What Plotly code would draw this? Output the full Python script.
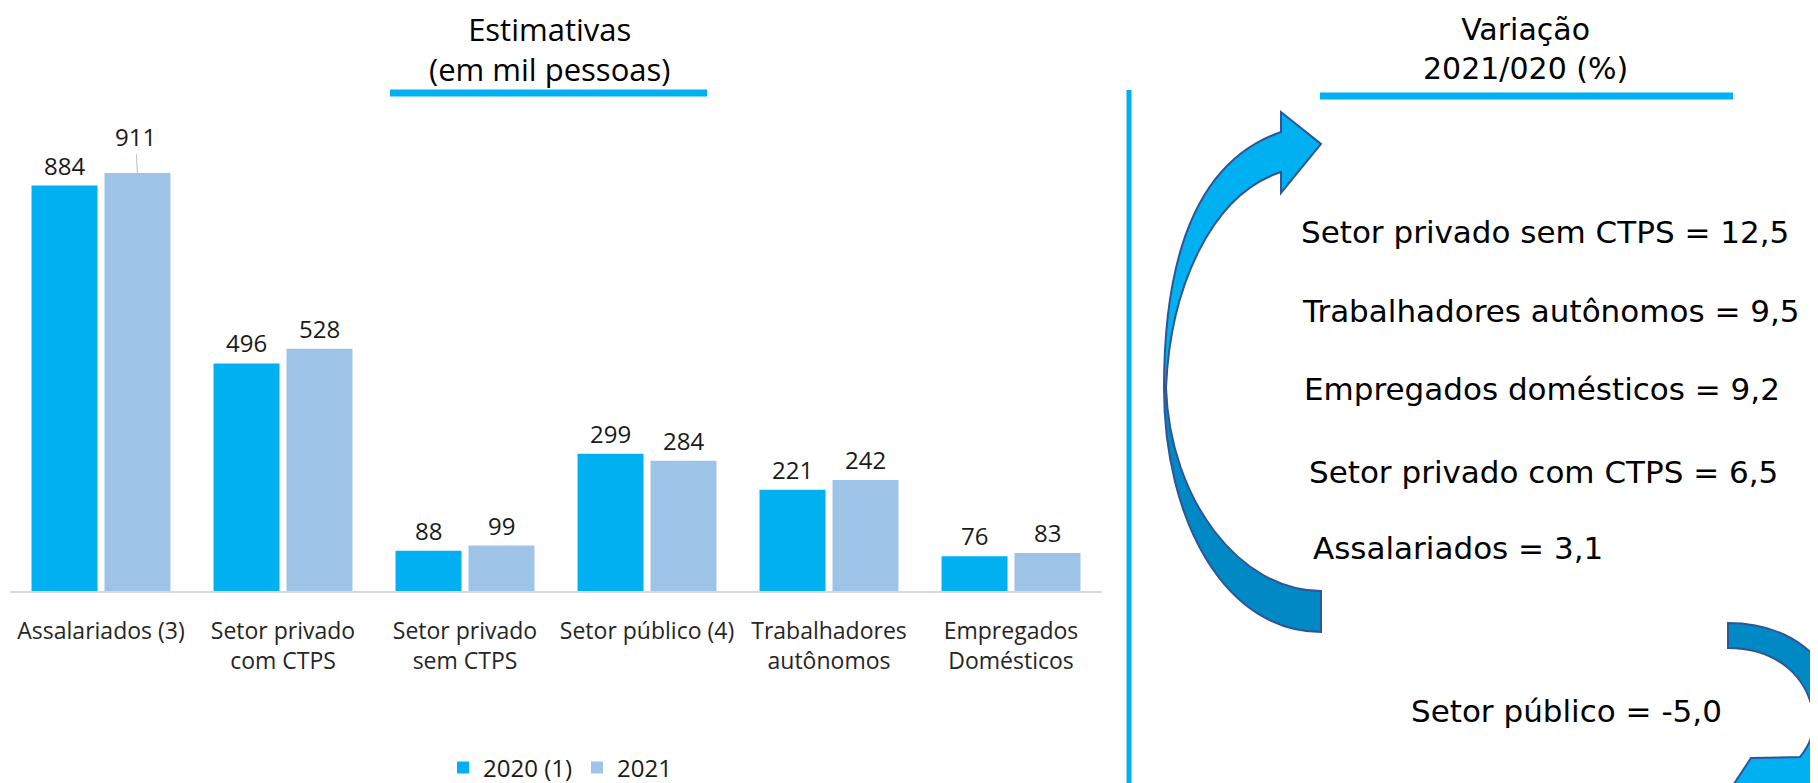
import plotly.graph_objects as go

W, H = 1818, 783
# the page draws the figure 8px in from the top-left corner; the overlay frame below is
# expressed in screen pixels so that positions read off the reference can be used directly
OFF = 8

# ---------------- data ----------------
categories = ["Assalariados (3)", "Setor privado com CTPS", "Setor privado sem CTPS",
              "Setor público (4)", "Trabalhadores autônomos", "Empregados Domésticos"]
tick_labels = ["Assalariados (3)", "Setor privado<br>com CTPS", "Setor privado<br>sem CTPS",
               "Setor público (4)", "Trabalhadores<br>autônomos", "Empregados<br>Domésticos"]
values_2020 = [884, 496, 88, 299, 221, 76]
values_2021 = [911, 528, 99, 284, 242, 83]
series_names = ["2020 (1)", "2021"]
series_colors = ["#00B0F0", "#9DC3E6"]

variation_labels = ["Setor privado sem CTPS", "Trabalhadores autônomos", "Empregados domésticos",
                    "Setor privado com CTPS", "Assalariados", "Setor público"]
variation_values = [12.5, 9.5, 9.2, 6.5, 3.1, -5.0]

# ---------------- layout helpers (screen-pixel frame) ----------------
var_pos = [(1299, 232), (1300, 311), (1302, 389), (1307, 472), (1311, 548), (1409, 711)]


def sx(px):
    return (px - OFF) / W


def sy(py):
    return 1 - (py - OFF) / H


fig = go.Figure()
for name, vals, col in zip(series_names, [values_2020, values_2021], series_colors):
    fig.add_bar(x=categories, y=vals, name=name, marker=dict(color=col, line=dict(width=0)),
                hoverinfo="skip")

# invisible trace to create the pixel overlay frame
fig.add_scatter(x=[0], y=[0], xaxis="x2", yaxis="y2", mode="markers",
                marker=dict(opacity=0), showlegend=False, hoverinfo="skip")

annotations = []
label_font = dict(family="Open Sans", size=24, color="#1a1a1a")
offsets = [-0.2, 0.2]
for s, vals in enumerate([values_2020, values_2021]):
    for i, v in enumerate(vals):
        if s == 1 and i == 0:
            annotations.append(dict(x=i + offsets[s], y=v, xref="x", yref="y", text=str(v),
                                    showarrow=True, arrowhead=0, arrowwidth=1, arrowcolor="#BFBFBF",
                                    ax=-2, ay=-37, font=label_font))
        else:
            annotations.append(dict(x=i + offsets[s], y=v, xref="x", yref="y", text=str(v),
                                    showarrow=False, yanchor="bottom", yshift=2, font=label_font))

annotations.append(dict(x=549, y=49, xref="x2", yref="y2", text="Estimativas<br>(em mil pessoas)",
                        showarrow=False, xanchor="center", yanchor="middle",
                        font=dict(family="Open Sans", size=31, color="#000000")))
annotations.append(dict(x=1525, y=49, xref="x2", yref="y2", text="Variação<br>2021/020 (%)",
                        showarrow=False, xanchor="center", yanchor="middle",
                        font=dict(family="DejaVu Sans", size=30, color="#000000")))

for (lab, val), (px, py) in zip(zip(variation_labels, variation_values), var_pos):
    txt = f"{lab} = {val:.1f}".replace(".", ",")
    annotations.append(dict(x=px, y=py, xref="x2", yref="y2", text=txt, showarrow=False,
                            xanchor="left", yanchor="middle",
                            font=dict(family="DejaVu Sans", size=31, color="#000000")))

BRIGHT = "#00B0F0"
DARK = "#0089C4"
EDGE = "#2F5597"

left_bright = ("M 1164,388 C 1164,250 1200,160 1281,132 L 1281,112 L 1321,144 L 1281,193 "
               "L 1281,172 C 1210,195 1170,290 1166,388 Z")
left_dark = "M 1164,388 C 1164,520 1225,632 1321,632 L 1321,591 C 1240,591 1170,500 1166,388 Z"
left_outline = ("M 1321,632 C 1225,632 1164,520 1164,388 C 1164,250 1200,160 1281,132 L 1281,112 "
                "L 1321,144 L 1281,193 L 1281,172 C 1210,195 1170,290 1166,388 "
                "C 1170,500 1240,591 1321,591 Z")

right_dark = "M 1728,623 C 1790,623 1835,660 1840,710 L 1813,712 C 1805,670 1770,648 1728,648 Z"
right_bright = ("M 1840,710 C 1842,740 1838,760 1830,778 L 1870,800 L 1720,805 L 1751,758 "
                "L 1800,757 C 1810,745 1816,730 1813,712 Z")
right_outline = ("M 1728,623 C 1790,623 1835,660 1840,710 C 1842,740 1838,760 1830,778 "
                 "L 1870,800 L 1720,805 L 1751,758 L 1800,757 C 1810,745 1816,730 1813,712 "
                 "C 1805,670 1770,648 1728,648 Z")

shapes = [
    dict(type="line", xref="x2", yref="y2", x0=1129, x1=1129, y0=90, y1=800,
         line=dict(color=BRIGHT, width=5)),
    dict(type="line", xref="x2", yref="y2", x0=390, x1=707, y0=93, y1=93,
         line=dict(color=BRIGHT, width=7)),
    dict(type="line", xref="x2", yref="y2", x0=1320, x1=1733, y0=96, y1=96,
         line=dict(color=BRIGHT, width=7)),
    dict(type="path", xref="x2", yref="y2", path=left_dark, fillcolor=DARK, line=dict(width=0)),
    dict(type="path", xref="x2", yref="y2", path=left_bright, fillcolor=BRIGHT, line=dict(width=0)),
    dict(type="path", xref="x2", yref="y2", path=left_outline, line=dict(color=EDGE, width=2)),
    dict(type="path", xref="x2", yref="y2", path=right_dark, fillcolor=DARK, line=dict(width=0)),
    dict(type="path", xref="x2", yref="y2", path=right_bright, fillcolor=BRIGHT, line=dict(width=0)),
    dict(type="path", xref="x2", yref="y2", path=right_outline, line=dict(color=EDGE, width=2)),
]

fig.update_layout(
    width=W, height=H,
    margin=dict(l=0, r=0, t=0, b=0),
    paper_bgcolor="white", plot_bgcolor="rgba(0,0,0,0)",
    barmode="group", bargap=0.198, bargroupgap=0.096,
    xaxis=dict(domain=[sx(10), sx(1102)], range=[-0.5, 5.5], showline=True,
               linecolor="#D9D9D9", linewidth=1.5, showgrid=False, zeroline=False,
               ticks="", tickmode="array", tickvals=categories, ticktext=tick_labels,
               tickfont=dict(family="Open Sans", size=23, color="#262626"),
               ticklabelstandoff=19, fixedrange=True),
    yaxis=dict(domain=[sy(591), sy(132.3)], range=[0, 1000], visible=False,
               fixedrange=True),
    xaxis2=dict(domain=[0, 1], range=[OFF, OFF + W], visible=False, anchor="y2", fixedrange=True),
    yaxis2=dict(domain=[0, 1], range=[OFF + H, OFF], visible=False, anchor="x2", fixedrange=True),
    legend=dict(orientation="h", x=sx(560), xanchor="center", y=sy(768), yanchor="middle",
                font=dict(family="Open Sans", size=24, color="#1a1a1a"),
                bgcolor="rgba(0,0,0,0)"),
    annotations=annotations,
    shapes=shapes,
    showlegend=True,
)

fig.write_html("out.html")
